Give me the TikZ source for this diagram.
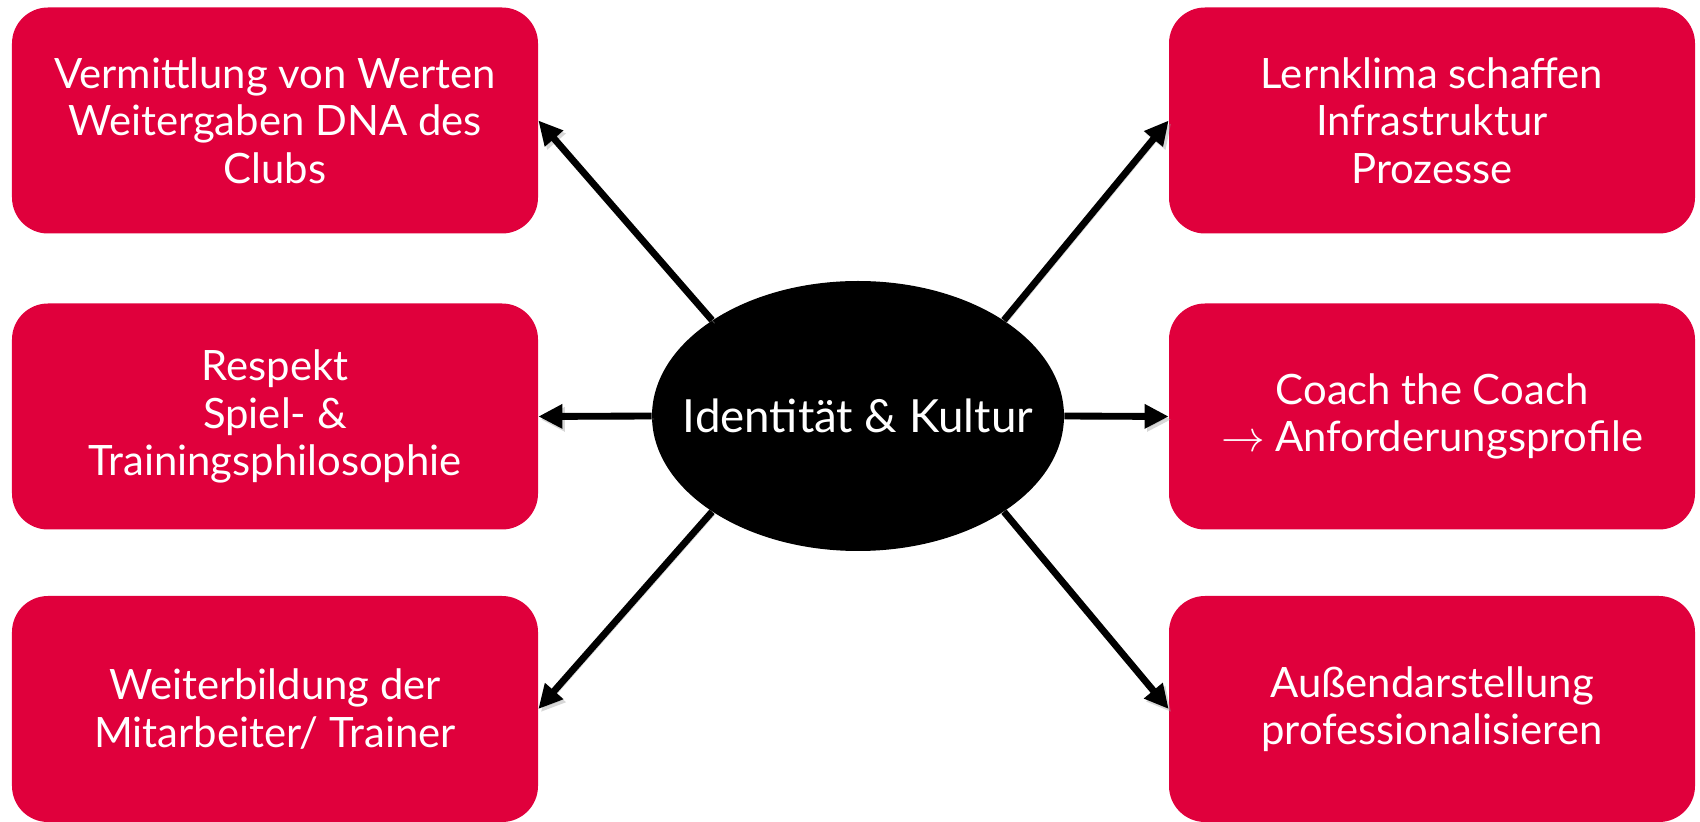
\documentclass[tikz,border=0pt]{standalone}
\usepackage{fontspec}
\setmainfont{Lato}
\usetikzlibrary{shapes.geometric,arrows.meta}
\definecolor{clubred}{RGB}{224,0,60}
\tikzset{
	feld/.style={fill=clubred, text=white, rounded corners=0.72cm, minimum width=10.52cm, minimum height=4.52cm, inner sep=0, align=center, font=\fontsize{23.8}{27}\selectfont},
	kern/.style={ellipse, fill=black, minimum width=8.24cm, minimum height=5.4cm, inner sep=0},
	pfeil/.style={line width=3.9pt, -{Triangle[length=0.48cm,width=0.46cm]}, preaction={draw, black!35, opacity=0.45, transform canvas={shift={(0.05,-0.06)}}}}
}

\begin{document}
\begin{tikzpicture}
		%%%%% START %%%%%
		\useasboundingbox (0, 0) rectangle (34, 16.42);
		
		\node[kern, label={[text=white, font=\fontsize{26}{30}\selectfont]center:Identität \& Kultur}] (ik) at (17.16, 8.1) {};
		
		\node[feld] (werte) at (5.5, 14.01) {Vermittlung von Werten\\Weitergaben DNA des\\Clubs};
		\node[feld] (respekt) at (5.5, 8.09) {Respekt\\Spiel- \&\\Trainingsphilosophie};
		\node[feld] (bildung) at (5.5, 2.24) {Weiterbildung der\\Mitarbeiter/ Trainer};
		
		\node[feld] (lernklima) at (28.64, 14.01) {Lernklima schaffen\\Infrastruktur\\Prozesse};
		\node[feld] (coach) at (28.64, 8.09) {Coach the Coach\\$\rightarrow$ Anforderungsprofile};
		\node[feld] (aussen) at (28.64, 2.24) {Außendarstellung\\professionalisieren};
		
		\draw[pfeil] (ik.north west) -- (werte.east);
		\draw[pfeil] (ik.west) -- (respekt.east);
		\draw[pfeil] (ik.south west) -- (bildung.east);
		
		\draw[pfeil] (ik.north east) -- (lernklima.west);
		\draw[pfeil] (ik.east) -- (coach.west);
		\draw[pfeil] (ik.south east) -- (aussen.west);
		
		%%%%% END %%%%%
	\end{tikzpicture}
\end{document}
